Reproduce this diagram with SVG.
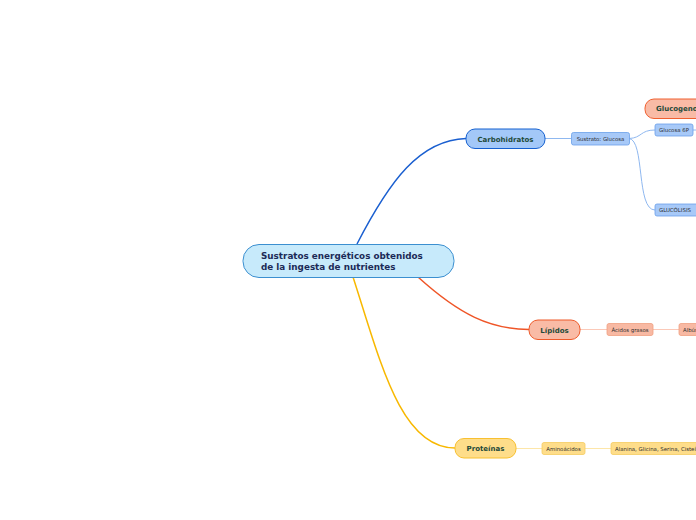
<svg xmlns="http://www.w3.org/2000/svg" width="696" height="520" viewBox="0 0 696 520">
<style>
text{font-family:"DejaVu Sans","Verdana",sans-serif}
.main{font-size:8.8px;font-weight:bold;fill:#1c2a57}
.t1{font-size:7px;font-weight:bold;fill:#1f4a3a;text-anchor:middle}
.t2{font-size:5.4px;fill:#2e2e2e;text-anchor:middle}
.t2l{font-size:5.4px;fill:#2e2e2e}
.c{fill:none;stroke-width:1.5}
.s{fill:none;stroke-width:1}
</style>
<rect width="696" height="520" fill="#ffffff"/>
<g id="connectors">
<path class="c" stroke="#1a5fd0" d="M357,244 C390,180 420,140 466,138.5"/>
<path class="c" stroke="#ef5527" d="M418,277 C460,315 490,329 529,329.5"/>
<path class="c" stroke="#f8b800" d="M353,277 C380,360 400,448 455,448"/>
<path class="s" stroke="#8fb8f0" d="M545,138.5 H571"/>
<path class="s" stroke="#8fb8f0" d="M629,138.5 C642,138 640,130 655,130"/>
<path class="s" stroke="#8fb8f0" d="M629,138.5 C645,140 636,210 655,210"/>
<path class="s" stroke="#8fb8f0" d="M693,130 H696"/>
<path class="s" stroke="#fbc9b8" d="M580,329.5 H607 M653,329.5 H679"/>
<path class="s" stroke="#fde6a8" d="M516,448.5 H542 M585,448.5 H611"/>
</g>
<g id="central">
<rect x="243" y="244.5" width="211" height="33" rx="16" fill="#c7eafb" stroke="#3b8fd0" stroke-width="1"/>
<text class="main" x="261" y="259">Sustratos energéticos obtenidos</text>
<text class="main" x="261" y="270">de la ingesta de nutrientes</text>
</g>
<g id="carbohidratos">
<rect x="466" y="129" width="79" height="19.5" rx="9" fill="#a3c8f8" stroke="#1560d0" stroke-width="1"/>
<text class="t1" x="505.5" y="141.5">Carbohidratos</text>
</g>
<g id="sustrato-glucosa">
<rect x="571.5" y="132.5" width="58" height="12.5" rx="2" fill="#a7c9f8" stroke="#6aa0ea" stroke-width="0.8"/>
<text class="t2" x="600.5" y="140.8">Sustrato: Glucosa</text>
</g>
<g id="glucosa6p">
<rect x="655" y="124" width="38" height="12" rx="2" fill="#a7c9f8" stroke="#6aa0ea" stroke-width="0.8"/>
<text class="t2" x="674" y="132">Glucosa 6P</text>
</g>
<g id="glucolisis">
<rect x="655" y="204" width="45" height="12" rx="2" fill="#a7c9f8" stroke="#6aa0ea" stroke-width="0.8"/>
<text class="t2l" x="659" y="212">GLUCÓLISIS</text>
</g>
<g id="glucogeno">
<rect x="645" y="99" width="80" height="19.5" rx="9" fill="#f9bba6" stroke="#f06030" stroke-width="1"/>
<text class="t1" x="656" y="111.2" style="text-anchor:start">Glucogenogénesis</text>
</g>
<g id="lipidos">
<rect x="529" y="320" width="51" height="19.5" rx="9" fill="#f9bba6" stroke="#ee5a2a" stroke-width="1"/>
<text class="t1" x="554.5" y="332.5">Lípidos</text>
</g>
<g id="acidos-grasos">
<rect x="607" y="323.5" width="46" height="12" rx="2" fill="#f8b9a3" stroke="#f0a080" stroke-width="0.8"/>
<text class="t2" x="630" y="331.5">Ácidos grasos</text>
</g>
<g id="albumina">
<rect x="679" y="323.5" width="40" height="12" rx="2" fill="#f8b9a3" stroke="#f0a080" stroke-width="0.8"/>
<text class="t2l" x="683" y="331.5">Albúmina</text>
</g>
<g id="proteinas">
<rect x="455" y="438.5" width="61" height="19.5" rx="9" fill="#fedd8a" stroke="#f8c030" stroke-width="1"/>
<text class="t1" x="485.5" y="451">Proteínas</text>
</g>
<g id="aminoacidos">
<rect x="542" y="442.5" width="43" height="12" rx="2" fill="#fedd8a" stroke="#f5cc60" stroke-width="0.8"/>
<text class="t2" x="563.5" y="450.5">Aminoácidos</text>
</g>
<g id="aminoacidos-lista">
<rect x="611" y="442.5" width="120" height="12" rx="2" fill="#fedd8a" stroke="#f5cc60" stroke-width="0.8"/>
<text class="t2l" x="615" y="450.5">Alanina, Glicina, Serina, Cisteína</text>
</g>
</svg>
